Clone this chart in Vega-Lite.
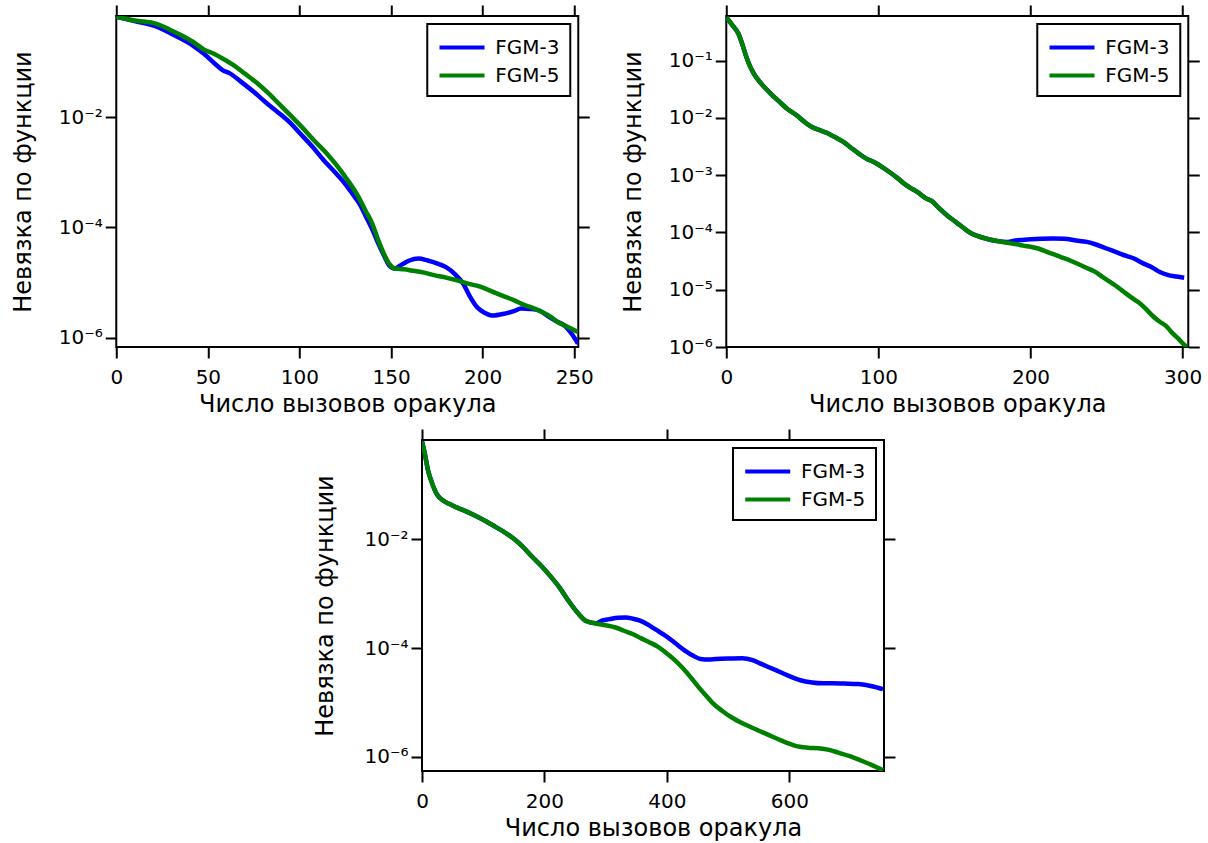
{
  "$schema": "https://vega.github.io/schema/vega-lite/v6.json",
  "padding": {"left": 10, "top": 3, "right": 0, "bottom": 0},
  "background": "white",
  "datasets": {
    "p1": [
      {"calls": 0, "log10_residual": -0.17, "method": "FGM-3"},
      {"calls": 10, "log10_residual": -0.25, "method": "FGM-3"},
      {"calls": 22, "log10_residual": -0.353, "method": "FGM-3"},
      {"calls": 30, "log10_residual": -0.48, "method": "FGM-3"},
      {"calls": 35, "log10_residual": -0.564, "method": "FGM-3"},
      {"calls": 42, "log10_residual": -0.70, "method": "FGM-3"},
      {"calls": 48, "log10_residual": -0.85, "method": "FGM-3"},
      {"calls": 54, "log10_residual": -1.03, "method": "FGM-3"},
      {"calls": 58, "log10_residual": -1.14, "method": "FGM-3"},
      {"calls": 62, "log10_residual": -1.20, "method": "FGM-3"},
      {"calls": 68, "log10_residual": -1.35, "method": "FGM-3"},
      {"calls": 75, "log10_residual": -1.535, "method": "FGM-3"},
      {"calls": 82, "log10_residual": -1.74, "method": "FGM-3"},
      {"calls": 88, "log10_residual": -1.90, "method": "FGM-3"},
      {"calls": 95, "log10_residual": -2.10, "method": "FGM-3"},
      {"calls": 100, "log10_residual": -2.28, "method": "FGM-3"},
      {"calls": 107, "log10_residual": -2.53, "method": "FGM-3"},
      {"calls": 113, "log10_residual": -2.77, "method": "FGM-3"},
      {"calls": 120, "log10_residual": -3.02, "method": "FGM-3"},
      {"calls": 125, "log10_residual": -3.21, "method": "FGM-3"},
      {"calls": 129, "log10_residual": -3.39, "method": "FGM-3"},
      {"calls": 133, "log10_residual": -3.58, "method": "FGM-3"},
      {"calls": 136, "log10_residual": -3.78, "method": "FGM-3"},
      {"calls": 140, "log10_residual": -4.05, "method": "FGM-3"},
      {"calls": 143, "log10_residual": -4.29, "method": "FGM-3"},
      {"calls": 146, "log10_residual": -4.50, "method": "FGM-3"},
      {"calls": 149, "log10_residual": -4.69, "method": "FGM-3"},
      {"calls": 152, "log10_residual": -4.745, "method": "FGM-3"},
      {"calls": 156, "log10_residual": -4.67, "method": "FGM-3"},
      {"calls": 160, "log10_residual": -4.60, "method": "FGM-3"},
      {"calls": 165, "log10_residual": -4.565, "method": "FGM-3"},
      {"calls": 170, "log10_residual": -4.60, "method": "FGM-3"},
      {"calls": 175, "log10_residual": -4.65, "method": "FGM-3"},
      {"calls": 180, "log10_residual": -4.72, "method": "FGM-3"},
      {"calls": 185, "log10_residual": -4.85, "method": "FGM-3"},
      {"calls": 189, "log10_residual": -5.0, "method": "FGM-3"},
      {"calls": 193, "log10_residual": -5.25, "method": "FGM-3"},
      {"calls": 197, "log10_residual": -5.45, "method": "FGM-3"},
      {"calls": 201, "log10_residual": -5.55, "method": "FGM-3"},
      {"calls": 205, "log10_residual": -5.60, "method": "FGM-3"},
      {"calls": 212, "log10_residual": -5.565, "method": "FGM-3"},
      {"calls": 217, "log10_residual": -5.52, "method": "FGM-3"},
      {"calls": 221, "log10_residual": -5.47, "method": "FGM-3"},
      {"calls": 226, "log10_residual": -5.48, "method": "FGM-3"},
      {"calls": 231, "log10_residual": -5.51, "method": "FGM-3"},
      {"calls": 236, "log10_residual": -5.62, "method": "FGM-3"},
      {"calls": 240, "log10_residual": -5.70, "method": "FGM-3"},
      {"calls": 245, "log10_residual": -5.79, "method": "FGM-3"},
      {"calls": 249, "log10_residual": -5.95, "method": "FGM-3"},
      {"calls": 252, "log10_residual": -6.11, "method": "FGM-3"},
      {"calls": 0, "log10_residual": -0.17, "method": "FGM-5"},
      {"calls": 10, "log10_residual": -0.24, "method": "FGM-5"},
      {"calls": 22, "log10_residual": -0.30, "method": "FGM-5"},
      {"calls": 30, "log10_residual": -0.42, "method": "FGM-5"},
      {"calls": 35, "log10_residual": -0.50, "method": "FGM-5"},
      {"calls": 42, "log10_residual": -0.63, "method": "FGM-5"},
      {"calls": 48, "log10_residual": -0.77, "method": "FGM-5"},
      {"calls": 53, "log10_residual": -0.84, "method": "FGM-5"},
      {"calls": 58, "log10_residual": -0.93, "method": "FGM-5"},
      {"calls": 64, "log10_residual": -1.05, "method": "FGM-5"},
      {"calls": 70, "log10_residual": -1.20, "method": "FGM-5"},
      {"calls": 77, "log10_residual": -1.38, "method": "FGM-5"},
      {"calls": 83, "log10_residual": -1.56, "method": "FGM-5"},
      {"calls": 89, "log10_residual": -1.76, "method": "FGM-5"},
      {"calls": 95, "log10_residual": -1.96, "method": "FGM-5"},
      {"calls": 102, "log10_residual": -2.20, "method": "FGM-5"},
      {"calls": 108, "log10_residual": -2.42, "method": "FGM-5"},
      {"calls": 115, "log10_residual": -2.66, "method": "FGM-5"},
      {"calls": 121, "log10_residual": -2.90, "method": "FGM-5"},
      {"calls": 125, "log10_residual": -3.08, "method": "FGM-5"},
      {"calls": 128, "log10_residual": -3.22, "method": "FGM-5"},
      {"calls": 132, "log10_residual": -3.43, "method": "FGM-5"},
      {"calls": 136, "log10_residual": -3.69, "method": "FGM-5"},
      {"calls": 140, "log10_residual": -3.95, "method": "FGM-5"},
      {"calls": 143, "log10_residual": -4.23, "method": "FGM-5"},
      {"calls": 146, "log10_residual": -4.47, "method": "FGM-5"},
      {"calls": 149, "log10_residual": -4.66, "method": "FGM-5"},
      {"calls": 152, "log10_residual": -4.745, "method": "FGM-5"},
      {"calls": 157, "log10_residual": -4.76, "method": "FGM-5"},
      {"calls": 161, "log10_residual": -4.78, "method": "FGM-5"},
      {"calls": 168, "log10_residual": -4.82, "method": "FGM-5"},
      {"calls": 174, "log10_residual": -4.87, "method": "FGM-5"},
      {"calls": 180, "log10_residual": -4.91, "method": "FGM-5"},
      {"calls": 185, "log10_residual": -4.95, "method": "FGM-5"},
      {"calls": 192, "log10_residual": -5.02, "method": "FGM-5"},
      {"calls": 199, "log10_residual": -5.08, "method": "FGM-5"},
      {"calls": 205, "log10_residual": -5.16, "method": "FGM-5"},
      {"calls": 210, "log10_residual": -5.23, "method": "FGM-5"},
      {"calls": 217, "log10_residual": -5.32, "method": "FGM-5"},
      {"calls": 223, "log10_residual": -5.41, "method": "FGM-5"},
      {"calls": 228, "log10_residual": -5.47, "method": "FGM-5"},
      {"calls": 232, "log10_residual": -5.53, "method": "FGM-5"},
      {"calls": 237, "log10_residual": -5.62, "method": "FGM-5"},
      {"calls": 241, "log10_residual": -5.72, "method": "FGM-5"},
      {"calls": 246, "log10_residual": -5.80, "method": "FGM-5"},
      {"calls": 252, "log10_residual": -5.90, "method": "FGM-5"}
    ],
    "p2": [
      {"calls": 0, "log10_residual": -0.24, "method": "FGM-3"},
      {"calls": 4, "log10_residual": -0.38, "method": "FGM-3"},
      {"calls": 8, "log10_residual": -0.53, "method": "FGM-3"},
      {"calls": 11, "log10_residual": -0.75, "method": "FGM-3"},
      {"calls": 13, "log10_residual": -0.92, "method": "FGM-3"},
      {"calls": 15, "log10_residual": -1.06, "method": "FGM-3"},
      {"calls": 18, "log10_residual": -1.22, "method": "FGM-3"},
      {"calls": 23, "log10_residual": -1.40, "method": "FGM-3"},
      {"calls": 29, "log10_residual": -1.57, "method": "FGM-3"},
      {"calls": 35, "log10_residual": -1.72, "method": "FGM-3"},
      {"calls": 40, "log10_residual": -1.84, "method": "FGM-3"},
      {"calls": 46, "log10_residual": -1.95, "method": "FGM-3"},
      {"calls": 51, "log10_residual": -2.06, "method": "FGM-3"},
      {"calls": 56, "log10_residual": -2.155, "method": "FGM-3"},
      {"calls": 61, "log10_residual": -2.21, "method": "FGM-3"},
      {"calls": 66, "log10_residual": -2.26, "method": "FGM-3"},
      {"calls": 71, "log10_residual": -2.33, "method": "FGM-3"},
      {"calls": 77, "log10_residual": -2.42, "method": "FGM-3"},
      {"calls": 82, "log10_residual": -2.52, "method": "FGM-3"},
      {"calls": 88, "log10_residual": -2.64, "method": "FGM-3"},
      {"calls": 92, "log10_residual": -2.71, "method": "FGM-3"},
      {"calls": 97, "log10_residual": -2.77, "method": "FGM-3"},
      {"calls": 102, "log10_residual": -2.85, "method": "FGM-3"},
      {"calls": 107, "log10_residual": -2.94, "method": "FGM-3"},
      {"calls": 113, "log10_residual": -3.06, "method": "FGM-3"},
      {"calls": 118, "log10_residual": -3.17, "method": "FGM-3"},
      {"calls": 121, "log10_residual": -3.22, "method": "FGM-3"},
      {"calls": 126, "log10_residual": -3.30, "method": "FGM-3"},
      {"calls": 131, "log10_residual": -3.40, "method": "FGM-3"},
      {"calls": 135, "log10_residual": -3.45, "method": "FGM-3"},
      {"calls": 140, "log10_residual": -3.58, "method": "FGM-3"},
      {"calls": 146, "log10_residual": -3.72, "method": "FGM-3"},
      {"calls": 150, "log10_residual": -3.80, "method": "FGM-3"},
      {"calls": 155, "log10_residual": -3.90, "method": "FGM-3"},
      {"calls": 160, "log10_residual": -4.00, "method": "FGM-3"},
      {"calls": 165, "log10_residual": -4.06, "method": "FGM-3"},
      {"calls": 171, "log10_residual": -4.11, "method": "FGM-3"},
      {"calls": 178, "log10_residual": -4.15, "method": "FGM-3"},
      {"calls": 185, "log10_residual": -4.165, "method": "FGM-3"},
      {"calls": 190, "log10_residual": -4.14, "method": "FGM-3"},
      {"calls": 195, "log10_residual": -4.13, "method": "FGM-3"},
      {"calls": 200, "log10_residual": -4.12, "method": "FGM-3"},
      {"calls": 207, "log10_residual": -4.11, "method": "FGM-3"},
      {"calls": 215, "log10_residual": -4.105, "method": "FGM-3"},
      {"calls": 222, "log10_residual": -4.11, "method": "FGM-3"},
      {"calls": 230, "log10_residual": -4.14, "method": "FGM-3"},
      {"calls": 237, "log10_residual": -4.165, "method": "FGM-3"},
      {"calls": 243, "log10_residual": -4.21, "method": "FGM-3"},
      {"calls": 248, "log10_residual": -4.26, "method": "FGM-3"},
      {"calls": 253, "log10_residual": -4.31, "method": "FGM-3"},
      {"calls": 258, "log10_residual": -4.36, "method": "FGM-3"},
      {"calls": 263, "log10_residual": -4.41, "method": "FGM-3"},
      {"calls": 268, "log10_residual": -4.455, "method": "FGM-3"},
      {"calls": 274, "log10_residual": -4.54, "method": "FGM-3"},
      {"calls": 280, "log10_residual": -4.61, "method": "FGM-3"},
      {"calls": 285, "log10_residual": -4.69, "method": "FGM-3"},
      {"calls": 290, "log10_residual": -4.74, "method": "FGM-3"},
      {"calls": 296, "log10_residual": -4.77, "method": "FGM-3"},
      {"calls": 301, "log10_residual": -4.79, "method": "FGM-3"},
      {"calls": 0, "log10_residual": -0.24, "method": "FGM-5"},
      {"calls": 4, "log10_residual": -0.38, "method": "FGM-5"},
      {"calls": 8, "log10_residual": -0.53, "method": "FGM-5"},
      {"calls": 11, "log10_residual": -0.75, "method": "FGM-5"},
      {"calls": 13, "log10_residual": -0.92, "method": "FGM-5"},
      {"calls": 15, "log10_residual": -1.06, "method": "FGM-5"},
      {"calls": 18, "log10_residual": -1.22, "method": "FGM-5"},
      {"calls": 23, "log10_residual": -1.40, "method": "FGM-5"},
      {"calls": 29, "log10_residual": -1.57, "method": "FGM-5"},
      {"calls": 35, "log10_residual": -1.72, "method": "FGM-5"},
      {"calls": 40, "log10_residual": -1.84, "method": "FGM-5"},
      {"calls": 46, "log10_residual": -1.95, "method": "FGM-5"},
      {"calls": 51, "log10_residual": -2.06, "method": "FGM-5"},
      {"calls": 56, "log10_residual": -2.155, "method": "FGM-5"},
      {"calls": 61, "log10_residual": -2.21, "method": "FGM-5"},
      {"calls": 66, "log10_residual": -2.26, "method": "FGM-5"},
      {"calls": 71, "log10_residual": -2.33, "method": "FGM-5"},
      {"calls": 77, "log10_residual": -2.42, "method": "FGM-5"},
      {"calls": 82, "log10_residual": -2.52, "method": "FGM-5"},
      {"calls": 88, "log10_residual": -2.64, "method": "FGM-5"},
      {"calls": 92, "log10_residual": -2.71, "method": "FGM-5"},
      {"calls": 97, "log10_residual": -2.77, "method": "FGM-5"},
      {"calls": 102, "log10_residual": -2.85, "method": "FGM-5"},
      {"calls": 107, "log10_residual": -2.94, "method": "FGM-5"},
      {"calls": 113, "log10_residual": -3.06, "method": "FGM-5"},
      {"calls": 118, "log10_residual": -3.17, "method": "FGM-5"},
      {"calls": 121, "log10_residual": -3.22, "method": "FGM-5"},
      {"calls": 126, "log10_residual": -3.30, "method": "FGM-5"},
      {"calls": 131, "log10_residual": -3.40, "method": "FGM-5"},
      {"calls": 135, "log10_residual": -3.45, "method": "FGM-5"},
      {"calls": 140, "log10_residual": -3.58, "method": "FGM-5"},
      {"calls": 146, "log10_residual": -3.72, "method": "FGM-5"},
      {"calls": 150, "log10_residual": -3.80, "method": "FGM-5"},
      {"calls": 155, "log10_residual": -3.90, "method": "FGM-5"},
      {"calls": 160, "log10_residual": -4.00, "method": "FGM-5"},
      {"calls": 165, "log10_residual": -4.06, "method": "FGM-5"},
      {"calls": 171, "log10_residual": -4.11, "method": "FGM-5"},
      {"calls": 178, "log10_residual": -4.15, "method": "FGM-5"},
      {"calls": 185, "log10_residual": -4.18, "method": "FGM-5"},
      {"calls": 190, "log10_residual": -4.20, "method": "FGM-5"},
      {"calls": 195, "log10_residual": -4.23, "method": "FGM-5"},
      {"calls": 200, "log10_residual": -4.25, "method": "FGM-5"},
      {"calls": 205, "log10_residual": -4.28, "method": "FGM-5"},
      {"calls": 210, "log10_residual": -4.33, "method": "FGM-5"},
      {"calls": 215, "log10_residual": -4.38, "method": "FGM-5"},
      {"calls": 220, "log10_residual": -4.43, "method": "FGM-5"},
      {"calls": 226, "log10_residual": -4.49, "method": "FGM-5"},
      {"calls": 232, "log10_residual": -4.56, "method": "FGM-5"},
      {"calls": 237, "log10_residual": -4.62, "method": "FGM-5"},
      {"calls": 242, "log10_residual": -4.68, "method": "FGM-5"},
      {"calls": 247, "log10_residual": -4.77, "method": "FGM-5"},
      {"calls": 251, "log10_residual": -4.84, "method": "FGM-5"},
      {"calls": 256, "log10_residual": -4.93, "method": "FGM-5"},
      {"calls": 261, "log10_residual": -5.03, "method": "FGM-5"},
      {"calls": 266, "log10_residual": -5.13, "method": "FGM-5"},
      {"calls": 271, "log10_residual": -5.22, "method": "FGM-5"},
      {"calls": 276, "log10_residual": -5.34, "method": "FGM-5"},
      {"calls": 280, "log10_residual": -5.45, "method": "FGM-5"},
      {"calls": 285, "log10_residual": -5.56, "method": "FGM-5"},
      {"calls": 289, "log10_residual": -5.63, "method": "FGM-5"},
      {"calls": 293, "log10_residual": -5.75, "method": "FGM-5"},
      {"calls": 297, "log10_residual": -5.85, "method": "FGM-5"},
      {"calls": 301, "log10_residual": -5.96, "method": "FGM-5"},
      {"calls": 303, "log10_residual": -6.0, "method": "FGM-5"}
    ],
    "p3": [
      {"calls": 0, "log10_residual": -0.2, "method": "FGM-3"},
      {"calls": 5, "log10_residual": -0.45, "method": "FGM-3"},
      {"calls": 10, "log10_residual": -0.74, "method": "FGM-3"},
      {"calls": 15, "log10_residual": -0.92, "method": "FGM-3"},
      {"calls": 20, "log10_residual": -1.07, "method": "FGM-3"},
      {"calls": 26, "log10_residual": -1.20, "method": "FGM-3"},
      {"calls": 35, "log10_residual": -1.29, "method": "FGM-3"},
      {"calls": 45, "log10_residual": -1.35, "method": "FGM-3"},
      {"calls": 58, "log10_residual": -1.42, "method": "FGM-3"},
      {"calls": 72, "log10_residual": -1.485, "method": "FGM-3"},
      {"calls": 88, "log10_residual": -1.57, "method": "FGM-3"},
      {"calls": 105, "log10_residual": -1.67, "method": "FGM-3"},
      {"calls": 120, "log10_residual": -1.77, "method": "FGM-3"},
      {"calls": 135, "log10_residual": -1.87, "method": "FGM-3"},
      {"calls": 150, "log10_residual": -1.99, "method": "FGM-3"},
      {"calls": 165, "log10_residual": -2.14, "method": "FGM-3"},
      {"calls": 180, "log10_residual": -2.32, "method": "FGM-3"},
      {"calls": 195, "log10_residual": -2.49, "method": "FGM-3"},
      {"calls": 210, "log10_residual": -2.68, "method": "FGM-3"},
      {"calls": 225, "log10_residual": -2.89, "method": "FGM-3"},
      {"calls": 240, "log10_residual": -3.14, "method": "FGM-3"},
      {"calls": 255, "log10_residual": -3.36, "method": "FGM-3"},
      {"calls": 268, "log10_residual": -3.50, "method": "FGM-3"},
      {"calls": 284, "log10_residual": -3.54, "method": "FGM-3"},
      {"calls": 295, "log10_residual": -3.49, "method": "FGM-3"},
      {"calls": 306, "log10_residual": -3.466, "method": "FGM-3"},
      {"calls": 320, "log10_residual": -3.44, "method": "FGM-3"},
      {"calls": 333, "log10_residual": -3.435, "method": "FGM-3"},
      {"calls": 345, "log10_residual": -3.46, "method": "FGM-3"},
      {"calls": 355, "log10_residual": -3.49, "method": "FGM-3"},
      {"calls": 368, "log10_residual": -3.56, "method": "FGM-3"},
      {"calls": 382, "log10_residual": -3.66, "method": "FGM-3"},
      {"calls": 398, "log10_residual": -3.774, "method": "FGM-3"},
      {"calls": 414, "log10_residual": -3.91, "method": "FGM-3"},
      {"calls": 430, "log10_residual": -4.05, "method": "FGM-3"},
      {"calls": 443, "log10_residual": -4.14, "method": "FGM-3"},
      {"calls": 455, "log10_residual": -4.2, "method": "FGM-3"},
      {"calls": 468, "log10_residual": -4.21, "method": "FGM-3"},
      {"calls": 480, "log10_residual": -4.2, "method": "FGM-3"},
      {"calls": 500, "log10_residual": -4.19, "method": "FGM-3"},
      {"calls": 523, "log10_residual": -4.184, "method": "FGM-3"},
      {"calls": 540, "log10_residual": -4.22, "method": "FGM-3"},
      {"calls": 555, "log10_residual": -4.294, "method": "FGM-3"},
      {"calls": 577, "log10_residual": -4.40, "method": "FGM-3"},
      {"calls": 599, "log10_residual": -4.51, "method": "FGM-3"},
      {"calls": 618, "log10_residual": -4.59, "method": "FGM-3"},
      {"calls": 637, "log10_residual": -4.63, "method": "FGM-3"},
      {"calls": 655, "log10_residual": -4.645, "method": "FGM-3"},
      {"calls": 670, "log10_residual": -4.644, "method": "FGM-3"},
      {"calls": 690, "log10_residual": -4.65, "method": "FGM-3"},
      {"calls": 713, "log10_residual": -4.66, "method": "FGM-3"},
      {"calls": 735, "log10_residual": -4.70, "method": "FGM-3"},
      {"calls": 753, "log10_residual": -4.754, "method": "FGM-3"},
      {"calls": 0, "log10_residual": -0.2, "method": "FGM-5"},
      {"calls": 5, "log10_residual": -0.45, "method": "FGM-5"},
      {"calls": 10, "log10_residual": -0.74, "method": "FGM-5"},
      {"calls": 15, "log10_residual": -0.92, "method": "FGM-5"},
      {"calls": 20, "log10_residual": -1.07, "method": "FGM-5"},
      {"calls": 26, "log10_residual": -1.20, "method": "FGM-5"},
      {"calls": 35, "log10_residual": -1.29, "method": "FGM-5"},
      {"calls": 45, "log10_residual": -1.35, "method": "FGM-5"},
      {"calls": 58, "log10_residual": -1.42, "method": "FGM-5"},
      {"calls": 72, "log10_residual": -1.485, "method": "FGM-5"},
      {"calls": 88, "log10_residual": -1.57, "method": "FGM-5"},
      {"calls": 105, "log10_residual": -1.67, "method": "FGM-5"},
      {"calls": 120, "log10_residual": -1.77, "method": "FGM-5"},
      {"calls": 135, "log10_residual": -1.87, "method": "FGM-5"},
      {"calls": 150, "log10_residual": -1.99, "method": "FGM-5"},
      {"calls": 165, "log10_residual": -2.14, "method": "FGM-5"},
      {"calls": 180, "log10_residual": -2.32, "method": "FGM-5"},
      {"calls": 195, "log10_residual": -2.49, "method": "FGM-5"},
      {"calls": 210, "log10_residual": -2.68, "method": "FGM-5"},
      {"calls": 225, "log10_residual": -2.89, "method": "FGM-5"},
      {"calls": 240, "log10_residual": -3.14, "method": "FGM-5"},
      {"calls": 255, "log10_residual": -3.36, "method": "FGM-5"},
      {"calls": 268, "log10_residual": -3.50, "method": "FGM-5"},
      {"calls": 284, "log10_residual": -3.546, "method": "FGM-5"},
      {"calls": 300, "log10_residual": -3.58, "method": "FGM-5"},
      {"calls": 316, "log10_residual": -3.62, "method": "FGM-5"},
      {"calls": 330, "log10_residual": -3.68, "method": "FGM-5"},
      {"calls": 344, "log10_residual": -3.74, "method": "FGM-5"},
      {"calls": 358, "log10_residual": -3.82, "method": "FGM-5"},
      {"calls": 371, "log10_residual": -3.89, "method": "FGM-5"},
      {"calls": 385, "log10_residual": -3.97, "method": "FGM-5"},
      {"calls": 398, "log10_residual": -4.08, "method": "FGM-5"},
      {"calls": 412, "log10_residual": -4.21, "method": "FGM-5"},
      {"calls": 425, "log10_residual": -4.355, "method": "FGM-5"},
      {"calls": 440, "log10_residual": -4.55, "method": "FGM-5"},
      {"calls": 452, "log10_residual": -4.72, "method": "FGM-5"},
      {"calls": 463, "log10_residual": -4.86, "method": "FGM-5"},
      {"calls": 474, "log10_residual": -5.0, "method": "FGM-5"},
      {"calls": 490, "log10_residual": -5.15, "method": "FGM-5"},
      {"calls": 506, "log10_residual": -5.275, "method": "FGM-5"},
      {"calls": 525, "log10_residual": -5.39, "method": "FGM-5"},
      {"calls": 545, "log10_residual": -5.49, "method": "FGM-5"},
      {"calls": 565, "log10_residual": -5.59, "method": "FGM-5"},
      {"calls": 582, "log10_residual": -5.674, "method": "FGM-5"},
      {"calls": 596, "log10_residual": -5.74, "method": "FGM-5"},
      {"calls": 610, "log10_residual": -5.797, "method": "FGM-5"},
      {"calls": 630, "log10_residual": -5.83, "method": "FGM-5"},
      {"calls": 648, "log10_residual": -5.84, "method": "FGM-5"},
      {"calls": 665, "log10_residual": -5.87, "method": "FGM-5"},
      {"calls": 680, "log10_residual": -5.92, "method": "FGM-5"},
      {"calls": 700, "log10_residual": -5.99, "method": "FGM-5"},
      {"calls": 718, "log10_residual": -6.07, "method": "FGM-5"},
      {"calls": 735, "log10_residual": -6.15, "method": "FGM-5"},
      {"calls": 753, "log10_residual": -6.245, "method": "FGM-5"}
    ]
  },
  "vconcat": [
    {
      "hconcat": [
        {
          "width": 462, "height": 331,
          "data": {"name": "p1"},
          "layer": [
            {
              "mark": {"type": "line", "strokeWidth": 4.5, "interpolate": "monotone", "clip": true},
              "encoding": {
                "x": {"field": "calls", "type": "quantitative", "scale": {"domain": [0, 252.2], "nice": false, "zero": false},
                      "axis": {"orient": "bottom", "values": [0, 50, 100, 150, 200, 250], "title": "Число вызовов оракула", "format": "d"}},
                "y": {"field": "log10_residual", "type": "quantitative", "scale": {"domain": [-6.171, -0.158], "nice": false, "zero": false},
                      "axis": {"orient": "left", "values": [-6, -4, -2], "title": "Невязка по функции",
                               "labelExpr": "datum.value == -1 ? '10⁻¹' : datum.value == -2 ? '10⁻²' : datum.value == -3 ? '10⁻³' : datum.value == -4 ? '10⁻⁴' : datum.value == -5 ? '10⁻⁵' : '10⁻⁶'"}},
                "color": {"field": "method", "type": "nominal", "scale": {"domain": ["FGM-3", "FGM-5"], "range": ["#0000ff", "#008000"]},
                          "legend": {"orient": "top-right", "title": null}}
              }
            },
            {
              "mark": {"type": "line", "opacity": 0},
              "encoding": {
                "x": {"field": "calls", "type": "quantitative", "axis": {"orient": "top", "values": [0, 50, 100, 150, 200, 250], "labels": false, "title": null}},
                "y": {"field": "log10_residual", "type": "quantitative", "axis": {"orient": "right", "values": [-6, -4, -2], "labels": false, "title": null}},
                "detail": {"field": "method"}
              }
            }
          ],
          "resolve": {"axis": {"x": "independent", "y": "independent"}}
        },
        {
          "width": 462, "height": 331,
          "data": {"name": "p2"},
          "layer": [
            {
              "mark": {"type": "line", "strokeWidth": 4.5, "interpolate": "monotone", "clip": true},
              "encoding": {
                "x": {"field": "calls", "type": "quantitative", "scale": {"domain": [0, 303.7], "nice": false, "zero": false},
                      "axis": {"orient": "bottom", "values": [0, 100, 200, 300], "title": "Число вызовов оракула", "format": "d"}},
                "y": {"field": "log10_residual", "type": "quantitative", "scale": {"domain": [-6, -0.22], "nice": false, "zero": false},
                      "axis": {"orient": "left", "values": [-6, -5, -4, -3, -2, -1], "title": "Невязка по функции",
                               "labelExpr": "datum.value == -1 ? '10⁻¹' : datum.value == -2 ? '10⁻²' : datum.value == -3 ? '10⁻³' : datum.value == -4 ? '10⁻⁴' : datum.value == -5 ? '10⁻⁵' : '10⁻⁶'"}},
                "color": {"field": "method", "type": "nominal", "scale": {"domain": ["FGM-3", "FGM-5"], "range": ["#0000ff", "#008000"]},
                          "legend": {"orient": "top-right", "title": null}}
              }
            },
            {
              "mark": {"type": "line", "opacity": 0},
              "encoding": {
                "x": {"field": "calls", "type": "quantitative", "axis": {"orient": "top", "values": [0, 100, 200, 300], "labels": false, "title": null}},
                "y": {"field": "log10_residual", "type": "quantitative", "axis": {"orient": "right", "values": [-6, -5, -4, -3, -2, -1], "labels": false, "title": null}},
                "detail": {"field": "method"}
              }
            }
          ],
          "resolve": {"axis": {"x": "independent", "y": "independent"}}
        }
      ],
      "spacing": 24,
      "resolve": {"scale": {"x": "independent", "y": "independent", "color": "independent"}, "legend": {"color": "independent"}}
    },
    {
      "width": 462, "height": 331,
      "data": {"name": "p3"},
      "layer": [
        {
          "mark": {"type": "line", "strokeWidth": 4.5, "interpolate": "monotone", "clip": true},
          "encoding": {
            "x": {"field": "calls", "type": "quantitative", "scale": {"domain": [0, 754.6], "nice": false, "zero": false},
                  "axis": {"orient": "bottom", "values": [0, 200, 400, 600], "title": "Число вызовов оракула", "format": "d"}},
            "y": {"field": "log10_residual", "type": "quantitative", "scale": {"domain": [-6.258, -0.173], "nice": false, "zero": false},
                  "axis": {"orient": "left", "values": [-6, -4, -2], "title": "Невязка по функции", "titlePadding": 26,
                           "labelExpr": "datum.value == -1 ? '10⁻¹' : datum.value == -2 ? '10⁻²' : datum.value == -3 ? '10⁻³' : datum.value == -4 ? '10⁻⁴' : datum.value == -5 ? '10⁻⁵' : '10⁻⁶'"}},
            "color": {"field": "method", "type": "nominal", "scale": {"domain": ["FGM-3", "FGM-5"], "range": ["#0000ff", "#008000"]},
                      "legend": {"orient": "top-right", "title": null}}
          }
        },
        {
          "mark": {"type": "line", "opacity": 0},
          "encoding": {
            "x": {"field": "calls", "type": "quantitative", "axis": {"orient": "top", "values": [0, 200, 400, 600], "labels": false, "title": null}},
            "y": {"field": "log10_residual", "type": "quantitative", "axis": {"orient": "right", "values": [-6, -4, -2], "labels": false, "title": null}},
            "detail": {"field": "method"}
          }
        }
      ],
      "resolve": {"axis": {"x": "independent", "y": "independent"}}
    }
  ],
  "spacing": 10,
  "center": true,
  "resolve": {"scale": {"x": "independent", "y": "independent", "color": "independent"}, "legend": {"color": "independent"}},
  "config": {
    "font": "DejaVu Sans",
    "view": {"stroke": "black", "strokeWidth": 2},
    "axis": {
      "grid": false, "domain": false,
      "tickColor": "black", "tickWidth": 2, "tickSize": 11,
      "labelFont": "DejaVu Sans", "labelFontSize": 20, "labelColor": "black", "labelPadding": 3,
      "labelFlush": false, "labelOverlap": false,
      "titleFont": "DejaVu Sans", "titleFontSize": 24, "titleFontWeight": "normal", "titleColor": "black", "titlePadding": 23
    },
    "axisX": {"labelPadding": 9, "titlePadding": 5},
    "legend": {
      "strokeColor": "black", "strokeWidth": 2, "fillColor": "white", "cornerRadius": 0,
      "padding": 10, "offset": 8,
      "labelFont": "DejaVu Sans", "labelFontSize": 20, "labelColor": "black",
      "symbolType": "M-1,0H3", "symbolSize": 506, "symbolStrokeWidth": 4, "labelOffset": 31, "rowPadding": 4
    }
  }
}
